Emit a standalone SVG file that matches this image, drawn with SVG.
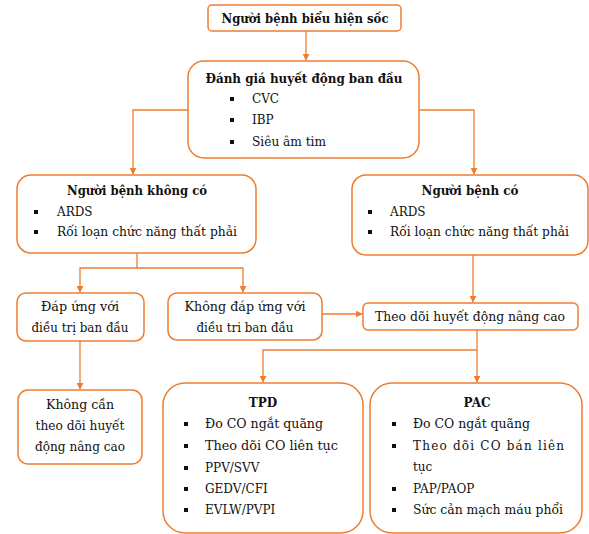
<svg xmlns="http://www.w3.org/2000/svg" width="589" height="534" viewBox="0 0 589 534" font-family="DejaVu Serif, serif">
<style>
.box{fill:#fff;stroke:#ED7D31;stroke-width:1.5}
.ln{fill:none;stroke:#ED7D31;stroke-width:1.3}
text{font-size:12px;fill:#111}
.b{font-weight:bold}
.c{text-anchor:middle}
.bl{fill:#111}
</style>
<defs>
<marker id="ah" viewBox="0 0 10 10" refX="9" refY="5" markerWidth="7" markerHeight="7" orient="auto" markerUnits="userSpaceOnUse">
<path d="M0,0 L10,5 L0,10 z" fill="#ED7D31"/>
</marker>
</defs>
<rect width="589" height="534" fill="#fff"/>
<g id="connectors">
<path class="ln" d="M306,31 V60" marker-end="url(#ah)"/>
<path class="ln" d="M188,110 H133 V174" marker-end="url(#ah)"/>
<path class="ln" d="M419,110 H474 V174" marker-end="url(#ah)"/>
<path class="ln" d="M137,253 V268 H80 V292" marker-end="url(#ah)"/>
<path class="ln" d="M137,268 H243 V292" marker-end="url(#ah)"/>
<path class="ln" d="M473,255 V302" marker-end="url(#ah)"/>
<path class="ln" d="M322,314 H362" marker-end="url(#ah)"/>
<path class="ln" d="M80,341 V389" marker-end="url(#ah)"/>
<path class="ln" d="M477,330 V382" marker-end="url(#ah)"/>
<path class="ln" d="M477,350 H263 V382" marker-end="url(#ah)"/>
</g>
<g id="n1">
<rect class="box" x="208" y="5" width="193" height="26" rx="4"/>
<text class="b c" x="305" y="23" textLength="167" lengthAdjust="spacingAndGlyphs">Người bệnh biểu hiện sốc</text>
</g>
<g id="n2">
<rect class="box" x="188" y="61" width="231" height="97" rx="16"/>
<text class="b c" x="304" y="83" textLength="197" lengthAdjust="spacingAndGlyphs">Đánh giá huyết động ban đầu</text>
<rect class="bl" x="230" y="97" width="4" height="4"/>
<text x="252" y="103">CVC</text>
<rect class="bl" x="230" y="118" width="4" height="4"/>
<text x="252" y="124">IBP</text>
<rect class="bl" x="230" y="140" width="4" height="4"/>
<text x="252" y="146" textLength="74" lengthAdjust="spacingAndGlyphs">Siêu âm tim</text>
</g>
<g id="n3">
<rect class="box" x="17" y="175" width="239" height="78" rx="14"/>
<text class="b c" x="137" y="195" textLength="140" lengthAdjust="spacingAndGlyphs">Người bệnh không có</text>
<rect class="bl" x="34" y="210" width="4" height="4"/>
<text x="57" y="216">ARDS</text>
<rect class="bl" x="34" y="230" width="4" height="4"/>
<text x="57" y="236" textLength="180" lengthAdjust="spacingAndGlyphs">Rối loạn chức năng thất phải</text>
</g>
<g id="n4">
<rect class="box" x="352" y="175" width="236" height="80" rx="14"/>
<text class="b c" x="470" y="195" textLength="97" lengthAdjust="spacingAndGlyphs">Người bệnh có</text>
<rect class="bl" x="368" y="210" width="4" height="4"/>
<text x="390" y="216">ARDS</text>
<rect class="bl" x="368" y="230" width="4" height="4"/>
<text x="390" y="236" textLength="179" lengthAdjust="spacingAndGlyphs">Rối loạn chức năng thất phải</text>
</g>
<g id="n5">
<rect class="box" x="17" y="293" width="127" height="48" rx="9"/>
<text class="c" x="80" y="311" textLength="78" lengthAdjust="spacingAndGlyphs">Đáp ứng với</text>
<text class="c" x="80" y="332" textLength="97" lengthAdjust="spacingAndGlyphs">điều trị ban đầu</text>
</g>
<g id="n6">
<rect class="box" x="168" y="293" width="154" height="47" rx="9"/>
<text class="c" x="245" y="311" textLength="121" lengthAdjust="spacingAndGlyphs">Không đáp ứng với</text>
<text class="c" x="245" y="332" textLength="97" lengthAdjust="spacingAndGlyphs">điều tri ban đầu</text>
</g>
<g id="n7">
<rect class="box" x="363" y="303" width="215" height="27" rx="5"/>
<text class="c" x="470" y="321" textLength="190" lengthAdjust="spacingAndGlyphs">Theo dõi huyết động nâng cao</text>
</g>
<g id="n8">
<rect class="box" x="18" y="390" width="124" height="74" rx="10"/>
<text class="c" x="80" y="409" textLength="68" lengthAdjust="spacingAndGlyphs">Không cần</text>
<text class="c" x="80" y="430" textLength="89" lengthAdjust="spacingAndGlyphs">theo dõi huyết</text>
<text class="c" x="80" y="451" textLength="90" lengthAdjust="spacingAndGlyphs">động nâng cao</text>
</g>
<g id="n9">
<rect class="box" x="163" y="383" width="200" height="150" rx="22"/>
<text class="b c" x="263" y="407">TPD</text>
<rect class="bl" x="184" y="422" width="4" height="4"/>
<text x="205" y="428" textLength="118" lengthAdjust="spacingAndGlyphs">Đo CO ngắt quãng</text>
<rect class="bl" x="184" y="444" width="4" height="4"/>
<text x="205" y="450" textLength="133" lengthAdjust="spacingAndGlyphs">Theo dõi CO liên tục</text>
<rect class="bl" x="184" y="466" width="4" height="4"/>
<text x="205" y="472">PPV/SVV</text>
<rect class="bl" x="184" y="487" width="4" height="4"/>
<text x="205" y="493">GEDV/CFI</text>
<rect class="bl" x="184" y="508" width="4" height="4"/>
<text x="205" y="514">EVLW/PVPI</text>
</g>
<g id="n10">
<rect class="box" x="370" y="383" width="212" height="150" rx="22"/>
<text class="b c" x="477" y="407">PAC</text>
<rect class="bl" x="392" y="422" width="4" height="4"/>
<text x="413" y="428" textLength="117" lengthAdjust="spacingAndGlyphs">Đo CO ngắt quãng</text>
<rect class="bl" x="392" y="444" width="4" height="4"/>
<text x="413" y="450" textLength="151" lengthAdjust="spacing">Theo dõi CO bán liên</text>
<text x="413" y="471">tục</text>
<rect class="bl" x="392" y="487" width="4" height="4"/>
<text x="413" y="493">PAP/PAOP</text>
<rect class="bl" x="392" y="508" width="4" height="4"/>
<text x="413" y="514" textLength="150" lengthAdjust="spacingAndGlyphs">Sức cản mạch máu phổi</text>
</g>
</svg>
